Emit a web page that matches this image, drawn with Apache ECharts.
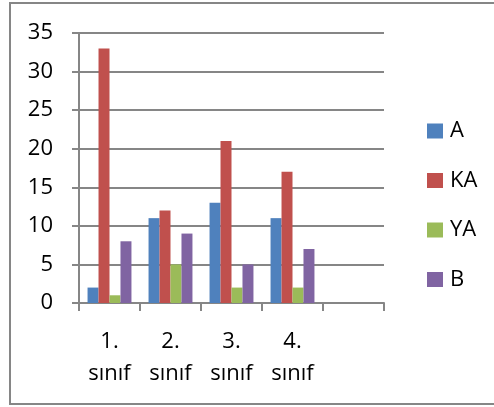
<!DOCTYPE html>
<html>
<head>
<meta charset="utf-8">
<script src="https://cdn.jsdelivr.net/npm/echarts@6/dist/echarts.min.js"></script>
<style>
  html, body { margin: 0; padding: 0; background: #fff; }
  #chart { width: 494px; height: 407px; }
</style>
</head>
<body>
<div id="chart"></div>
<script>
// Class levels (the last slot is left empty) and grade counts per group
const categories = ['1.\nsınıf', '2.\nsınıf', '3.\nsınıf', '4.\nsınıf', ''];
const seriesNames = ['A', 'KA', 'YA', 'B'];
const valuesA  = [2, 11, 13, 11, null];
const valuesKA = [33, 12, 21, 17, null];
const valuesYA = [1, 5, 2, 2, null];
const valuesB  = [8, 9, 5, 7, null];
const yTicks = { min: 0, max: 35, interval: 5 };

const colors = ['#4F81BD', '#C0504D', '#9BBB59', '#8064A2'];
const seriesValues = [valuesA, valuesKA, valuesYA, valuesB];
const FONT = '"Open Sans", "Liberation Sans", sans-serif';
const lineGrey = '#868686';

const chart = echarts.init(document.getElementById('chart'), null, { renderer: 'canvas' });

chart.setOption({
  animation: false,
  backgroundColor: '#fff',
  color: colors,
  graphic: [{
    type: 'rect',
    shape: { x: 10, y: 3, width: 500, height: 401 },
    style: { fill: 'none', stroke: lineGrey, lineWidth: 2 },
    silent: true,
    z: -1
  }],
  grid: { left: 79, right: 110, top: 33, bottom: 104, containLabel: false },
  legend: {
    orient: 'vertical',
    left: 427,
    top: 120,
    padding: 0,
    itemWidth: 16,
    itemHeight: 15,
    itemGap: 27.5,
    icon: 'rect',
    textStyle: { fontFamily: FONT, fontSize: 22, color: '#000', lineHeight: 20, padding: [0, 0, 0, 2] },
    data: seriesNames
  },
  xAxis: {
    type: 'category',
    data: categories,
    boundaryGap: true,
    axisLine: { show: true, lineStyle: { color: lineGrey, width: 2 } },
    axisTick: { show: true, length: 8, lineStyle: { color: lineGrey, width: 2 }, alignWithLabel: false },
    axisLabel: {
      interval: 0,
      margin: 23,
      fontFamily: FONT,
      fontSize: 22,
      lineHeight: 32,
      color: '#000'
    },
    splitLine: { show: false }
  },
  yAxis: {
    type: 'value',
    min: yTicks.min,
    max: yTicks.max,
    interval: yTicks.interval,
    axisLine: { show: true, lineStyle: { color: lineGrey, width: 2 } },
    axisTick: { show: true, length: 7, lineStyle: { color: lineGrey, width: 2 } },
    axisLabel: { margin: 26, fontFamily: FONT, fontSize: 22, color: '#000' },
    splitLine: { show: true, lineStyle: { color: lineGrey, width: 2 } }
  },
  series: seriesNames.map((name, i) => ({
    name: name,
    type: 'bar',
    data: seriesValues[i],
    barGap: '0%',
    barCategoryGap: '28%',
    itemStyle: { color: colors[i] }
  }))
});
</script>
</body>
</html>
